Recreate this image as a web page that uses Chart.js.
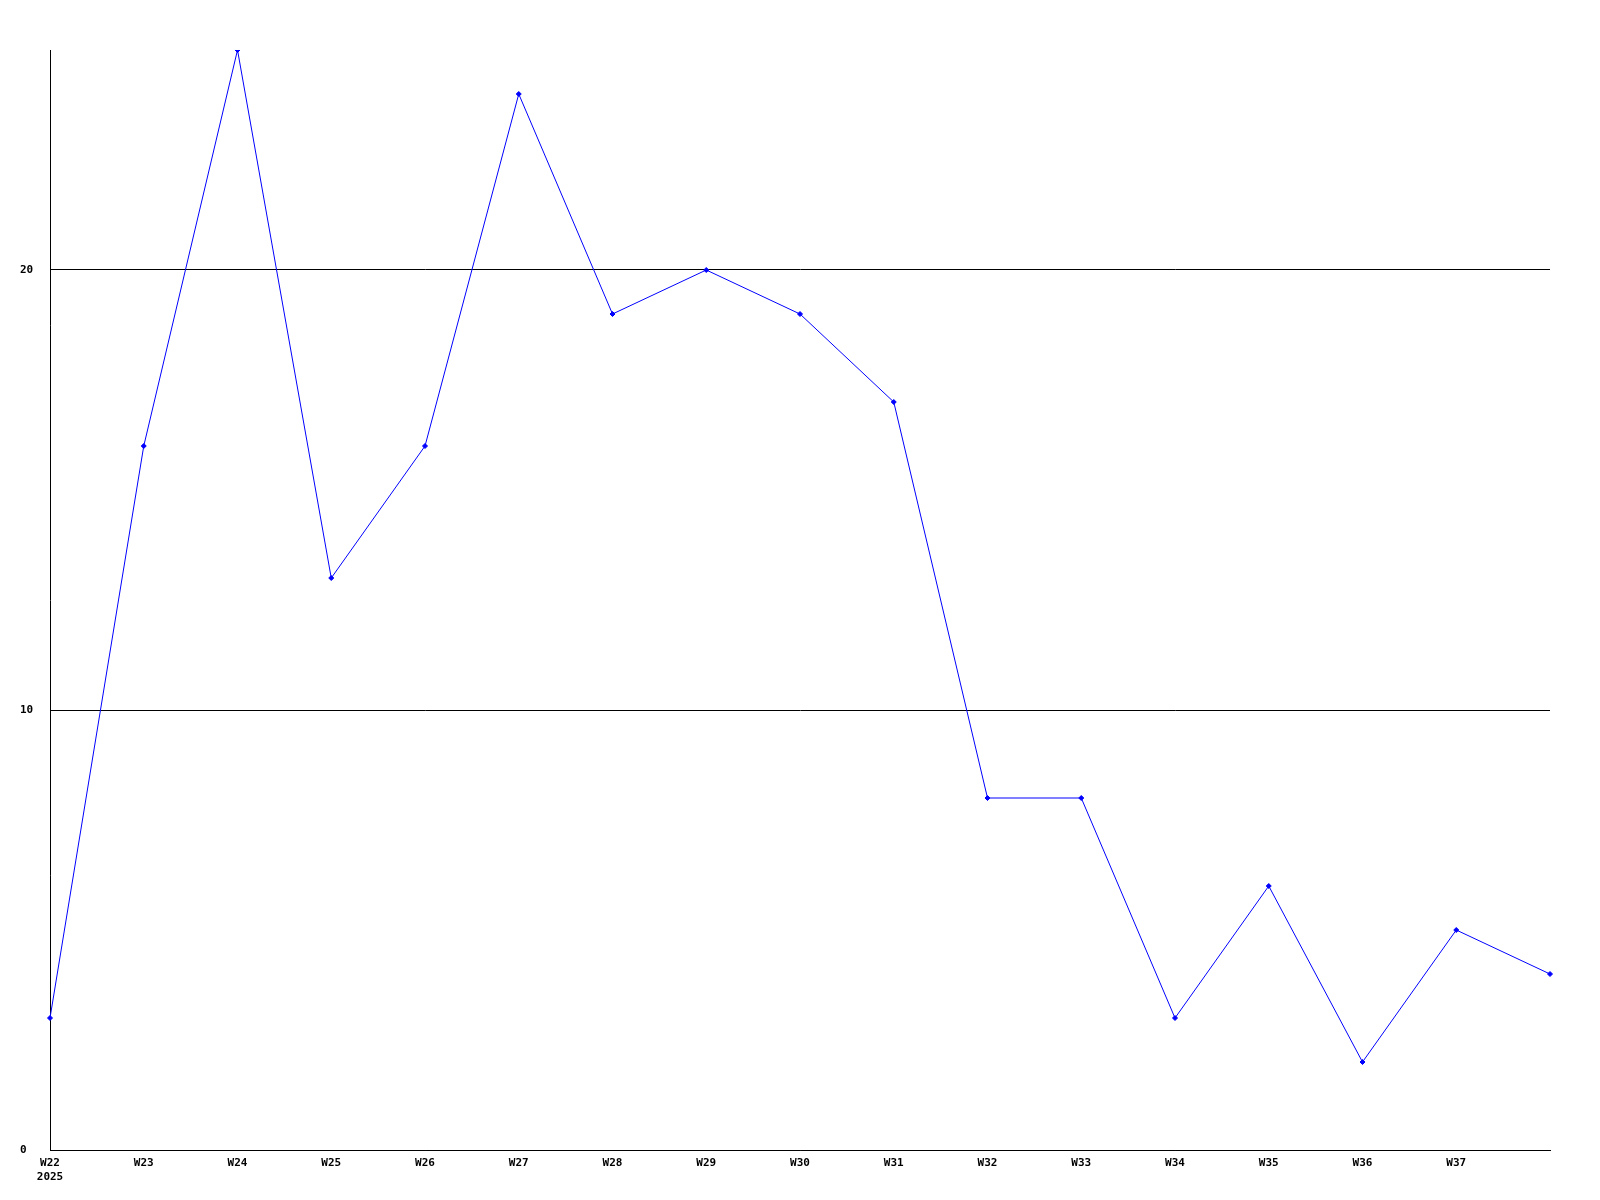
<!DOCTYPE html>
<html>
<head>
<meta charset="utf-8">
<script src="https://cdn.jsdelivr.net/npm/chart.js@4/dist/chart.umd.min.js"></script>
<style>
  html, body { margin: 0; padding: 0; background: #fff; }
  #wrap { width: 1600px; height: 1200px; }
</style>
</head>
<body>
<div id="wrap"><canvas id="weeklyChart"></canvas></div>
<script>
// weeks shown on the x axis (last point has no label)
const weeks = ['W22', 'W23', 'W24', 'W25', 'W26', 'W27', 'W28', 'W29', 'W30',
               'W31', 'W32', 'W33', 'W34', 'W35', 'W36', 'W37', 'W38'];
const yearLabel = '2025';

// weekly counts
const counts = [3, 16, 25, 13, 16, 24, 19, 20, 19, 17, 8, 8, 3, 6, 2, 5, 4];

// y axis ticks
const yTicks = [0, 10, 20];

const monoFont = { family: 'DejaVu Sans Mono', size: 11, weight: 'bold' };

document.addEventListener('DOMContentLoaded', function() {
    const ctx = document.getElementById('weeklyChart').getContext('2d');

    new Chart(ctx, {
        type: 'line',
        data: {
            labels: weeks,
            datasets: [{
                data: counts,
                borderColor: '#0000ff',
                backgroundColor: '#0000ff',
                borderWidth: 1,
                pointStyle: 'rectRot',
                pointRadius: 2.5,
                pointBorderWidth: 1,
                tension: 0
            }]
        },
        options: {
            responsive: true,
            maintainAspectRatio: false,
            animation: false,
            layout: {
                padding: { left: 20, top: 50, right: 50, bottom: 0 }
            },
            plugins: {
                legend: { display: false },
                tooltip: { enabled: false }
            },
            scales: {
                x: {
                    offset: false,
                    grid: { display: false, drawTicks: false },
                    border: { display: true, color: '#000', width: 1 },
                    ticks: {
                        color: '#000',
                        font: monoFont,
                        padding: 7,
                        maxRotation: 0,
                        autoSkip: false,
                        callback: function(value, index) {
                            if (index === weeks.length - 1) return '';
                            // year printed under the first week
                            if (index === 0) return [weeks[index], yearLabel];
                            return weeks[index];
                        }
                    },
                    afterFit: function(scale) { scale.height = 50; }
                },
                y: {
                    min: 0,
                    max: 25,
                    grid: {
                        color: '#000',
                        lineWidth: 1,
                        drawTicks: false
                    },
                    border: { display: true, color: '#000', width: 1 },
                    ticks: {
                        color: '#000',
                        font: monoFont,
                        crossAlign: 'far',
                        padding: 4
                    },
                    afterBuildTicks: function(scale) {
                        scale.ticks = yTicks.map(v => ({ value: v }));
                    },
                    afterFit: function(scale) { scale.width = 30; }
                }
            }
        }
    });
});
</script>
</body>
</html>
